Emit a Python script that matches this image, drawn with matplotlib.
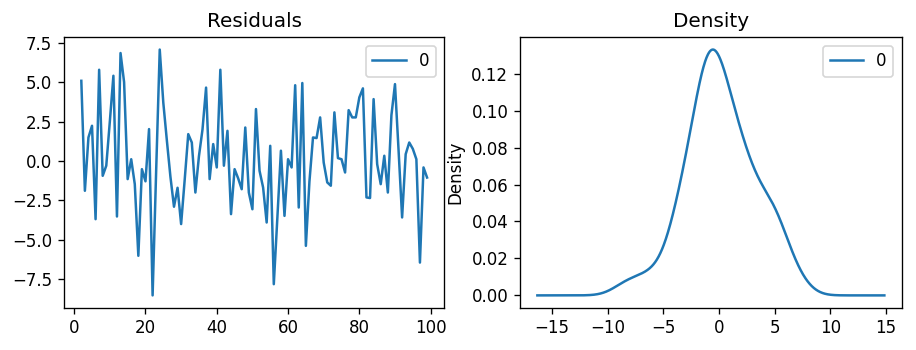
import matplotlib
matplotlib.use('Agg')
import matplotlib.pyplot as plt
import numpy as np
from matplotlib.ticker import MultipleLocator

# Residuals (index 2..99)
steps = np.arange(2, 100)
residuals = np.array([
     5.08, -1.89,  1.49,  2.23, -3.69,  5.78, -0.94, -0.30,  2.50,  5.40,
    -3.52,  6.84,  5.00, -1.15,  0.11, -1.47, -6.01, -0.52, -1.29,  2.02,
    -8.52, -0.60,  7.06,  3.70,  1.30, -1.00, -2.90, -1.70, -4.00, -1.20,
     1.70,  1.17, -2.00,  0.30,  2.00,  4.65, -1.15,  1.07, -0.41,  5.78,
    -0.30,  1.91, -3.37, -0.52, -1.10, -1.79,  2.12, -2.00, -3.06,  3.29,
    -0.62, -1.68, -3.90,  0.96, -7.81, -3.60,  0.65, -3.48,  0.11, -0.41,
     4.80, -2.95,  4.94, -5.38, -1.30,  1.49,  1.45,  2.76, -0.10, -1.36,
    -1.57,  3.08,  0.18,  0.11, -0.73,  3.22,  2.76,  2.76,  4.03,  4.60,
    -2.31, -2.35,  3.92, -0.20, -1.47,  0.33, -2.00,  2.90,  4.87,  0.70,
    -3.58,  0.43,  1.17,  0.77,  0.11, -6.44, -0.41, -1.05,
])
series_label = '0'

DPI = 120


def kde(values, grid):
    # gaussian kernel, Scott's rule (same as pandas' plot.kde)
    n = len(values)
    bw = np.std(values, ddof=1) * n ** (-1.0 / 5)
    z = (grid[:, None] - values[None, :]) / bw
    return np.exp(-0.5 * z ** 2).sum(axis=1) / (n * bw * np.sqrt(2 * np.pi))


def main():
    fig, (ax1, ax2) = plt.subplots(1, 2, figsize=(916 / DPI, 350 / DPI), dpi=DPI)
    ax1.set_position([0.0699, 0.1209, 0.4152, 0.7726])
    ax2.set_position([0.5677, 0.1209, 0.4167, 0.7726])

    ax1.plot(steps, residuals, color='#1f77b4', label=series_label)
    ax1.set_title('Residuals')
    ax1.yaxis.set_major_locator(MultipleLocator(2.5))
    ax1.legend(loc='upper right')

    span = residuals.max() - residuals.min()
    grid = np.linspace(residuals.min() - 0.5 * span, residuals.max() + 0.5 * span, 1000)
    ax2.plot(grid, kde(residuals, grid), color='#1f77b4', label=series_label)
    ax2.set_title('Density')
    ax2.set_ylabel('Density')
    ax2.legend(loc='upper right')

    fig.savefig('out.png', dpi=DPI)


if __name__ == '__main__':
    main()
